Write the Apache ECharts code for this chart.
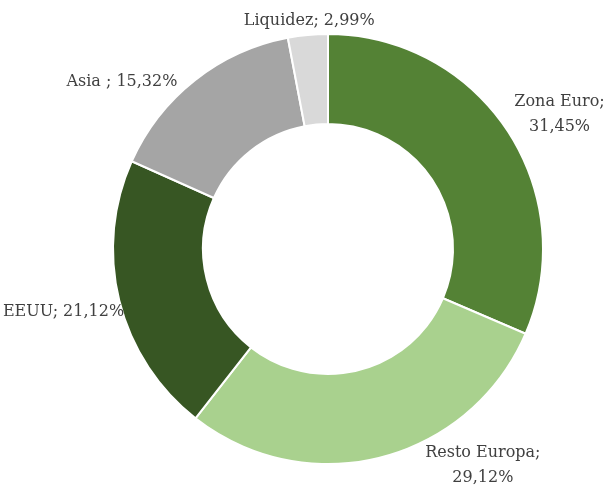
<!DOCTYPE html>
<html>
<head>
<meta charset="utf-8">
<script src="https://cdn.jsdelivr.net/npm/echarts@6/dist/echarts.min.js"></script>
<style>
  html, body { margin: 0; padding: 0; background: #fff; }
  #main { width: 608px; height: 486px; }
</style>
</head>
<body>
<div id="main"></div>
<script>
// slices, clockwise from 12 o'clock
var categories = ['Zona Euro', 'Resto Europa', 'EEUU', 'Asia', 'Liquidez'];
var values = [31.45, 29.12, 21.12, 15.32, 2.99];
var labelSep = [';\n', ';\n', '; ', ' ; ', '; '];
var colors = ['#548235', '#a9d18e', '#375623', '#a5a5a5', '#d9d9d9'];
// small nudges of each label away from its default outside spot
var labelNudge = [[42, -13], [95, 5], [-45, 10], [-64, 6], [7, -8]];

var data = categories.map(function (name, i) {
  return { name: name, value: values[i], itemStyle: { color: colors[i] } };
});

var myChart = echarts.init(document.getElementById('main'));
myChart.setOption({
  animation: false,
  series: [{
    type: 'pie',
    center: [328, 249],
    radius: [125, 215],
    startAngle: 90,
    clockwise: true,
    itemStyle: { borderColor: '#fff', borderWidth: 2 },
    label: {
      show: true,
      position: 'outside',
      color: '#404040',
      fontFamily: 'DejaVu Serif',
      fontSize: 16,
      lineHeight: 25,
      overflow: 'none',
      formatter: function (p) {
        return p.name + labelSep[p.dataIndex] + p.value.toFixed(2).replace('.', ',') + '%';
      }
    },
    labelLine: { show: false, length: 6, length2: 0 },
    labelLayout: function (params) {
      var n = labelNudge[params.dataIndex];
      return { align: 'center', dx: n[0], dy: n[1] };
    },
    data: data
  }]
});
</script>
</body>
</html>
